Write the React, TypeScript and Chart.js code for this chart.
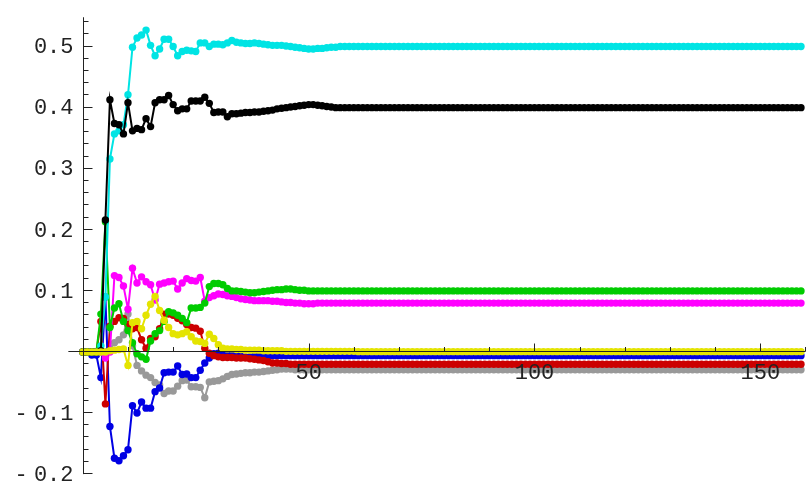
import React, { useEffect, useRef } from "react";
import { Chart, registerables } from "chart.js";

Chart.register(...registerables);

// ---- data (index i = 0..159) ----
const cyanHead = [
  0, 0, 0, 0, 0.01, 0.09, 0.316, 0.357, 0.362, 0.372, 0.421,
  0.499, 0.514, 0.519, 0.527, 0.502, 0.485, 0.496, 0.512, 0.512, 0.5,
  0.485, 0.492, 0.494, 0.493, 0.492, 0.506, 0.506, 0.5, 0.504, 0.504,
  0.503, 0.506, 0.51, 0.507, 0.506, 0.505, 0.505, 0.506, 0.505, 0.504,
  0.503, 0.502, 0.502, 0.502, 0.501, 0.5, 0.499, 0.498, 0.497, 0.496,
  0.496, 0.497, 0.497, 0.498, 0.499, 0.499, 0.5, 0.5, 0.5, 0.5,
];
const cyanTail = [
  0.5, 0.5, 0.5, 0.5, 0.5, 0.5, 0.5, 0.5, 0.5, 0.5, 0.5,
  0.5, 0.5, 0.5, 0.5, 0.5, 0.5, 0.5, 0.5, 0.5, 0.5, 0.5,
  0.5, 0.5, 0.5, 0.5, 0.5, 0.5, 0.5, 0.5, 0.5, 0.5, 0.5,
  0.5, 0.5, 0.5, 0.5, 0.5, 0.5, 0.5, 0.5, 0.5, 0.5, 0.5,
  0.5, 0.5, 0.5, 0.5, 0.5, 0.5, 0.5, 0.5, 0.5, 0.5, 0.5,
  0.5, 0.5, 0.5, 0.5, 0.5, 0.5, 0.5, 0.5, 0.5, 0.5, 0.5,
  0.5, 0.5, 0.5, 0.5, 0.5, 0.5, 0.5, 0.5, 0.5, 0.5, 0.5,
  0.5, 0.5, 0.5, 0.5, 0.5, 0.5, 0.5, 0.5, 0.5, 0.5, 0.5,
  0.5, 0.5, 0.5, 0.5, 0.5, 0.5, 0.5, 0.5, 0.5, 0.5, 0.5,
];

const blackHead = [
  0, 0, 0, 0, 0.002, 0.216, 0.413, 0.374, 0.372, 0.357, 0.408,
  0.362, 0.366, 0.364, 0.382, 0.369, 0.408, 0.413, 0.413, 0.42, 0.405,
  0.395, 0.398, 0.398, 0.411, 0.411, 0.411, 0.417, 0.407, 0.392, 0.393,
  0.393, 0.385, 0.39, 0.39, 0.391, 0.392, 0.392, 0.393, 0.393, 0.394,
  0.395, 0.396, 0.398, 0.399, 0.4, 0.401, 0.402, 0.403, 0.404, 0.405,
  0.405, 0.404, 0.403, 0.402, 0.401, 0.4, 0.4, 0.4, 0.4, 0.4,
];
const blackTail = [
  0.4, 0.4, 0.4, 0.4, 0.4, 0.4, 0.4, 0.4, 0.4, 0.4, 0.4,
  0.4, 0.4, 0.4, 0.4, 0.4, 0.4, 0.4, 0.4, 0.4, 0.4, 0.4,
  0.4, 0.4, 0.4, 0.4, 0.4, 0.4, 0.4, 0.4, 0.4, 0.4, 0.4,
  0.4, 0.4, 0.4, 0.4, 0.4, 0.4, 0.4, 0.4, 0.4, 0.4, 0.4,
  0.4, 0.4, 0.4, 0.4, 0.4, 0.4, 0.4, 0.4, 0.4, 0.4, 0.4,
  0.4, 0.4, 0.4, 0.4, 0.4, 0.4, 0.4, 0.4, 0.4, 0.4, 0.4,
  0.4, 0.4, 0.4, 0.4, 0.4, 0.4, 0.4, 0.4, 0.4, 0.4, 0.4,
  0.4, 0.4, 0.4, 0.4, 0.4, 0.4, 0.4, 0.4, 0.4, 0.4, 0.4,
  0.4, 0.4, 0.4, 0.4, 0.4, 0.4, 0.4, 0.4, 0.4, 0.4, 0.4,
];

const greenHead = [
  0, 0, 0, 0, 0.062, 0.213, 0.04, 0.072, 0.079, 0.05, 0.035,
  0.015, -0.003, -0.008, -0.012, 0.018, 0.03, 0.035, 0.05, 0.066, 0.064,
  0.06, 0.055, 0.048, 0.072, 0.072, 0.073, 0.08, 0.107, 0.112, 0.112,
  0.11, 0.104, 0.1, 0.1, 0.099, 0.098, 0.097, 0.097, 0.098, 0.099,
  0.1, 0.101, 0.102, 0.102, 0.103, 0.103, 0.102, 0.101, 0.101, 0.1,
  0.1, 0.1, 0.1, 0.1, 0.1, 0.1, 0.1, 0.1, 0.1, 0.1,
];
const greenTail = [
  0.1, 0.1, 0.1, 0.1, 0.1, 0.1, 0.1, 0.1, 0.1, 0.1, 0.1,
  0.1, 0.1, 0.1, 0.1, 0.1, 0.1, 0.1, 0.1, 0.1, 0.1, 0.1,
  0.1, 0.1, 0.1, 0.1, 0.1, 0.1, 0.1, 0.1, 0.1, 0.1, 0.1,
  0.1, 0.1, 0.1, 0.1, 0.1, 0.1, 0.1, 0.1, 0.1, 0.1, 0.1,
  0.1, 0.1, 0.1, 0.1, 0.1, 0.1, 0.1, 0.1, 0.1, 0.1, 0.1,
  0.1, 0.1, 0.1, 0.1, 0.1, 0.1, 0.1, 0.1, 0.1, 0.1, 0.1,
  0.1, 0.1, 0.1, 0.1, 0.1, 0.1, 0.1, 0.1, 0.1, 0.1, 0.1,
  0.1, 0.1, 0.1, 0.1, 0.1, 0.1, 0.1, 0.1, 0.1, 0.1, 0.1,
  0.1, 0.1, 0.1, 0.1, 0.1, 0.1, 0.1, 0.1, 0.1, 0.1, 0.1,
];

const magentaHead = [
  0, 0, 0, 0, 0, -0.01, 0.0, 0.125, 0.122, 0.108, 0.07,
  0.137, 0.113, 0.123, 0.115, 0.11, 0.085, 0.111, 0.113, 0.115, 0.116,
  0.103, 0.113, 0.12, 0.117, 0.116, 0.122, 0.083, 0.089, 0.092, 0.095,
  0.094, 0.092, 0.091, 0.089, 0.087, 0.086, 0.085, 0.084, 0.084, 0.084,
  0.084, 0.083, 0.083, 0.082, 0.081, 0.081, 0.08, 0.08, 0.079, 0.079,
  0.079, 0.08, 0.08, 0.08, 0.08, 0.08, 0.08, 0.08, 0.08, 0.08,
];
const magentaTail = [
  0.08, 0.08, 0.08, 0.08, 0.08, 0.08, 0.08, 0.08, 0.08, 0.08, 0.08,
  0.08, 0.08, 0.08, 0.08, 0.08, 0.08, 0.08, 0.08, 0.08, 0.08, 0.08,
  0.08, 0.08, 0.08, 0.08, 0.08, 0.08, 0.08, 0.08, 0.08, 0.08, 0.08,
  0.08, 0.08, 0.08, 0.08, 0.08, 0.08, 0.08, 0.08, 0.08, 0.08, 0.08,
  0.08, 0.08, 0.08, 0.08, 0.08, 0.08, 0.08, 0.08, 0.08, 0.08, 0.08,
  0.08, 0.08, 0.08, 0.08, 0.08, 0.08, 0.08, 0.08, 0.08, 0.08, 0.08,
  0.08, 0.08, 0.08, 0.08, 0.08, 0.08, 0.08, 0.08, 0.08, 0.08, 0.08,
  0.08, 0.08, 0.08, 0.08, 0.08, 0.08, 0.08, 0.08, 0.08, 0.08, 0.08,
  0.08, 0.08, 0.08, 0.08, 0.08, 0.08, 0.08, 0.08, 0.08, 0.08, 0.08,
];

const yellowHead = [
  0, 0, 0, 0, 0, 0, 0.002, 0.003, 0.004, 0.005, -0.022,
  0.048, 0.05, 0.038, 0.06, 0.078, 0.091, 0.068, 0.052, 0.04, 0.03,
  0.028, 0.03, 0.033, 0.025, 0.018, 0.017, 0.014, 0.029, 0.022, 0.012,
  0.006, 0.005, 0.005, 0.004, 0.004, 0.003, 0.003, 0.003, 0.003, 0.002,
  0.002, 0.002, 0.002, 0.002, 0.001, 0.001, 0.001, 0.001, 0.001, 0.001,
  0.001, 0.001, 0.001, 0.001, 0.001, 0.001, 0.001, 0.001, 0.001, 0.001,
];
const yellowTail = [
  0.0005, 0.0005, 0.0005, 0.0005, 0.0005, 0.0005, 0.0005, 0.0005, 0.0005, 0.0005, 0.0005,
  0.0005, 0.0005, 0.0005, 0.0005, 0.0005, 0.0005, 0.0005, 0.0005, 0.0005, 0.0005, 0.0005,
  0.0005, 0.0005, 0.0005, 0.0005, 0.0005, 0.0005, 0.0005, 0.0005, 0.0005, 0.0005, 0.0005,
  0.0005, 0.0005, 0.0005, 0.0005, 0.0005, 0.0005, 0.0005, 0.0005, 0.0005, 0.0005, 0.0005,
  0.0005, 0.0005, 0.0005, 0.0005, 0.0005, 0.0005, 0.0005, 0.0005, 0.0005, 0.0005, 0.0005,
  0.0005, 0.0005, 0.0005, 0.0005, 0.0005, 0.0005, 0.0005, 0.0005, 0.0005, 0.0005, 0.0005,
  0.0005, 0.0005, 0.0005, 0.0005, 0.0005, 0.0005, 0.0005, 0.0005, 0.0005, 0.0005, 0.0005,
  0.0005, 0.0005, 0.0005, 0.0005, 0.0005, 0.0005, 0.0005, 0.0005, 0.0005, 0.0005, 0.0005,
  0.0005, 0.0005, 0.0005, 0.0005, 0.0005, 0.0005, 0.0005, 0.0005, 0.0005, 0.0005, 0.0005,
];

const redHead = [
  0, 0, 0, 0, 0.05, -0.085, 0.042, 0.05, 0.056, 0.055, 0.045,
  0.038, 0.04, 0.02, 0.006, 0.022, 0.025, 0.038, 0.062, 0.062, 0.06,
  0.055, 0.051, 0.045, 0.04, 0.039, 0.034, 0.006, -0.002, -0.006, -0.008,
  -0.009, -0.009, -0.009, -0.01, -0.01, -0.01, -0.011, -0.012, -0.013, -0.014,
  -0.016, -0.018, -0.018, -0.019, -0.019, -0.02, -0.02, -0.02, -0.02, -0.02,
  -0.02, -0.02, -0.02, -0.02, -0.02, -0.02, -0.02, -0.02, -0.02, -0.02,
];
const redTail = [
  -0.02, -0.02, -0.02, -0.02, -0.02, -0.02, -0.02, -0.02, -0.02, -0.02, -0.02,
  -0.02, -0.02, -0.02, -0.02, -0.02, -0.02, -0.02, -0.02, -0.02, -0.02, -0.02,
  -0.02, -0.02, -0.02, -0.02, -0.02, -0.02, -0.02, -0.02, -0.02, -0.02, -0.02,
  -0.02, -0.02, -0.02, -0.02, -0.02, -0.02, -0.02, -0.02, -0.02, -0.02, -0.02,
  -0.02, -0.02, -0.02, -0.02, -0.02, -0.02, -0.02, -0.02, -0.02, -0.02, -0.02,
  -0.02, -0.02, -0.02, -0.02, -0.02, -0.02, -0.02, -0.02, -0.02, -0.02, -0.02,
  -0.02, -0.02, -0.02, -0.02, -0.02, -0.02, -0.02, -0.02, -0.02, -0.02, -0.02,
  -0.02, -0.02, -0.02, -0.02, -0.02, -0.02, -0.02, -0.02, -0.02, -0.02, -0.02,
  -0.02, -0.02, -0.02, -0.02, -0.02, -0.02, -0.02, -0.02, -0.02, -0.02, -0.02,
];

const blueHead = [
  0, 0, -0.005, -0.005, -0.042, 0.09, -0.122, -0.174, -0.178, -0.17, -0.16,
  -0.088, -0.1, -0.082, -0.092, -0.092, -0.065, -0.059, -0.034, -0.033, -0.033,
  -0.023, -0.037, -0.036, -0.042, -0.042, -0.03, -0.018, -0.01, -0.003, -0.002,
  -0.003, -0.004, -0.004, -0.005, -0.007, -0.008, -0.008, -0.007, -0.007, -0.007,
  -0.006, -0.006, -0.006, -0.006, -0.006, -0.006, -0.006, -0.006, -0.006, -0.006,
  -0.006, -0.006, -0.006, -0.006, -0.006, -0.006, -0.006, -0.006, -0.006, -0.006,
];
const blueTail = [
  -0.006, -0.006, -0.006, -0.006, -0.006, -0.006, -0.006, -0.006, -0.006, -0.006, -0.006,
  -0.006, -0.006, -0.006, -0.006, -0.006, -0.006, -0.006, -0.006, -0.006, -0.006, -0.006,
  -0.006, -0.006, -0.006, -0.006, -0.006, -0.006, -0.006, -0.006, -0.006, -0.006, -0.006,
  -0.006, -0.006, -0.006, -0.006, -0.006, -0.006, -0.006, -0.006, -0.006, -0.006, -0.006,
  -0.006, -0.006, -0.006, -0.006, -0.006, -0.006, -0.006, -0.006, -0.006, -0.006, -0.006,
  -0.006, -0.006, -0.006, -0.006, -0.006, -0.006, -0.006, -0.006, -0.006, -0.006, -0.006,
  -0.006, -0.006, -0.006, -0.006, -0.006, -0.006, -0.006, -0.006, -0.006, -0.006, -0.006,
  -0.006, -0.006, -0.006, -0.006, -0.006, -0.006, -0.006, -0.006, -0.006, -0.006, -0.006,
  -0.006, -0.006, -0.006, -0.006, -0.006, -0.006, -0.006, -0.006, -0.006, -0.006, -0.006,
];

const grayHead = [
  0, 0, 0, 0, 0, 0, 0.005, 0.015, 0.02, 0.028, 0.062,
  0.01, -0.022, -0.031, -0.038, -0.042, -0.05, -0.054, -0.068, -0.064, -0.064,
  -0.056, -0.047, -0.046, -0.057, -0.057, -0.058, -0.075, -0.049, -0.048, -0.047,
  -0.044, -0.04, -0.037, -0.036, -0.035, -0.034, -0.034, -0.033, -0.033, -0.032,
  -0.031, -0.03, -0.029, -0.028, -0.028, -0.028, -0.029, -0.029, -0.029, -0.029,
  -0.029, -0.029, -0.029, -0.029, -0.029, -0.029, -0.029, -0.029, -0.029, -0.029,
];
const grayTail = [
  -0.029, -0.029, -0.029, -0.029, -0.029, -0.029, -0.029, -0.029, -0.029, -0.029, -0.029,
  -0.029, -0.029, -0.029, -0.029, -0.029, -0.029, -0.029, -0.029, -0.029, -0.029, -0.029,
  -0.029, -0.029, -0.029, -0.029, -0.029, -0.029, -0.029, -0.029, -0.029, -0.029, -0.029,
  -0.029, -0.029, -0.029, -0.029, -0.029, -0.029, -0.029, -0.029, -0.029, -0.029, -0.029,
  -0.029, -0.029, -0.029, -0.029, -0.029, -0.029, -0.029, -0.029, -0.029, -0.029, -0.029,
  -0.029, -0.029, -0.029, -0.029, -0.029, -0.029, -0.029, -0.029, -0.029, -0.029, -0.029,
  -0.029, -0.029, -0.029, -0.029, -0.029, -0.029, -0.029, -0.029, -0.029, -0.029, -0.029,
  -0.029, -0.029, -0.029, -0.029, -0.029, -0.029, -0.029, -0.029, -0.029, -0.029, -0.029,
  -0.029, -0.029, -0.029, -0.029, -0.029, -0.029, -0.029, -0.029, -0.029, -0.029, -0.029,
];

const xTickValues = [50, 100, 150];
const xTickLabels = ["50", "100", "150"];
const yTickValues = [0.5, 0.4, 0.3, 0.2, 0.1, -0.1, -0.2];
const yTickLabels = ["0.5", "0.4", "0.3", "0.2", "0.1", "-0.1", "-0.2"];

// series, first entry drawn on top
const series = [
  { name: "yellow", color: "rgb(228,228,0)", values: yellowHead.concat(yellowTail) },
  { name: "black", color: "rgb(0,0,0)", values: blackHead.concat(blackTail) },
  { name: "cyan", color: "rgb(0,228,228)", values: cyanHead.concat(cyanTail) },
  { name: "green", color: "rgb(0,204,0)", values: greenHead.concat(greenTail) },
  { name: "magenta", color: "rgb(255,0,255)", values: magentaHead.concat(magentaTail) },
  { name: "red", color: "rgb(204,0,0)", values: redHead.concat(redTail) },
  { name: "blue", color: "rgb(0,0,228)", values: blueHead.concat(blueTail) },
  { name: "gray", color: "rgb(153,153,153)", values: grayHead.concat(grayTail) },
];

const FONT = '22px "Liberation Mono", "DejaVu Sans Mono", monospace';

const axesPlugin = {
  id: "mmaAxes",
  afterDatasetsDraw(chart: any) {
    const { ctx } = chart;
    const xs = chart.scales.x;
    const ys = chart.scales.y;
    const X = (v: number) => xs.getPixelForValue(v);
    const Y = (v: number) => ys.getPixelForValue(v);
    ctx.save();
    ctx.strokeStyle = "#222";
    ctx.fillStyle = "#222";
    ctx.lineWidth = 1;
    const ax = Math.round(X(0)) + 0.5;
    const ay = Math.round(Y(0)) - 0.5;
    ctx.beginPath();
    ctx.moveTo(X(-3.2), ay);
    ctx.lineTo(X(160), ay);
    ctx.moveTo(ax, Y(-0.2));
    ctx.lineTo(ax, Y(0.548));
    ctx.stroke();
    ctx.beginPath();
    for (let k = -10; k <= 27; k++) {
      const v = k * 0.02;
      const py = Math.round(Y(v)) - 0.5;
      const len = k % 5 === 0 ? 9 : 5;
      ctx.moveTo(ax, py);
      ctx.lineTo(ax + len, py);
    }
    for (let k = 1; k <= 16; k++) {
      const v = k * 10;
      const px = Math.round(X(v)) + 0.5;
      const len = k % 5 === 0 ? 8 : 4.5;
      ctx.moveTo(px, ay);
      ctx.lineTo(px, ay - len);
    }
    ctx.stroke();
    ctx.font = FONT;
    ctx.textBaseline = "alphabetic";
    yTickValues.forEach((v, i) => {
      let label = yTickLabels[i];
      const base = Y(v) + 6.7;
      if (label.startsWith("-")) {
        ctx.textAlign = "center";
        ctx.fillText("-", ax - 62.5, base);
        label = label.slice(1);
      }
      ctx.textAlign = "right";
      ctx.fillText(label, ax - 10, base);
    });
    ctx.textAlign = "center";
    xTickValues.forEach((v, i) => {
      ctx.fillText(xTickLabels[i], X(v), ay + 27);
    });
    ctx.restore();
  },
};

export default function App() {
  const ref = useRef<HTMLCanvasElement>(null);
  useEffect(() => {
    if (!ref.current) return;
    const datasets = series.map((s) => ({
      label: s.name,
      data: s.values.map((v, i) => ({ x: i, y: v })),
      borderColor: s.color,
      backgroundColor: s.color,
      pointBackgroundColor: s.color,
      pointBorderWidth: 0,
      pointRadius: 3.7,
      borderWidth: 2,
      fill: false,
      tension: 0,
    }));
    const chart = new Chart(ref.current, {
      type: "line",
      data: { datasets },
      options: {
        animation: false,
        responsive: false,
        devicePixelRatio: 1,
        layout: { padding: 0 },
        plugins: { legend: { display: false }, tooltip: { enabled: false } },
        scales: {
          x: { type: "linear", min: -17.45, max: 159.89, display: false },
          y: { type: "linear", min: -0.2129, max: 0.5697, display: false },
        },
      },
      plugins: [axesPlugin],
    } as any);
    return () => chart.destroy();
  }, []);
  return (
    <div style={{ position: "absolute", left: 0, top: 0, width: 809, height: 486, background: "#fff" }}>
      <canvas ref={ref} width={809} height={486} style={{ position: "absolute", left: 0, top: 0 }} />
    </div>
  );
}
